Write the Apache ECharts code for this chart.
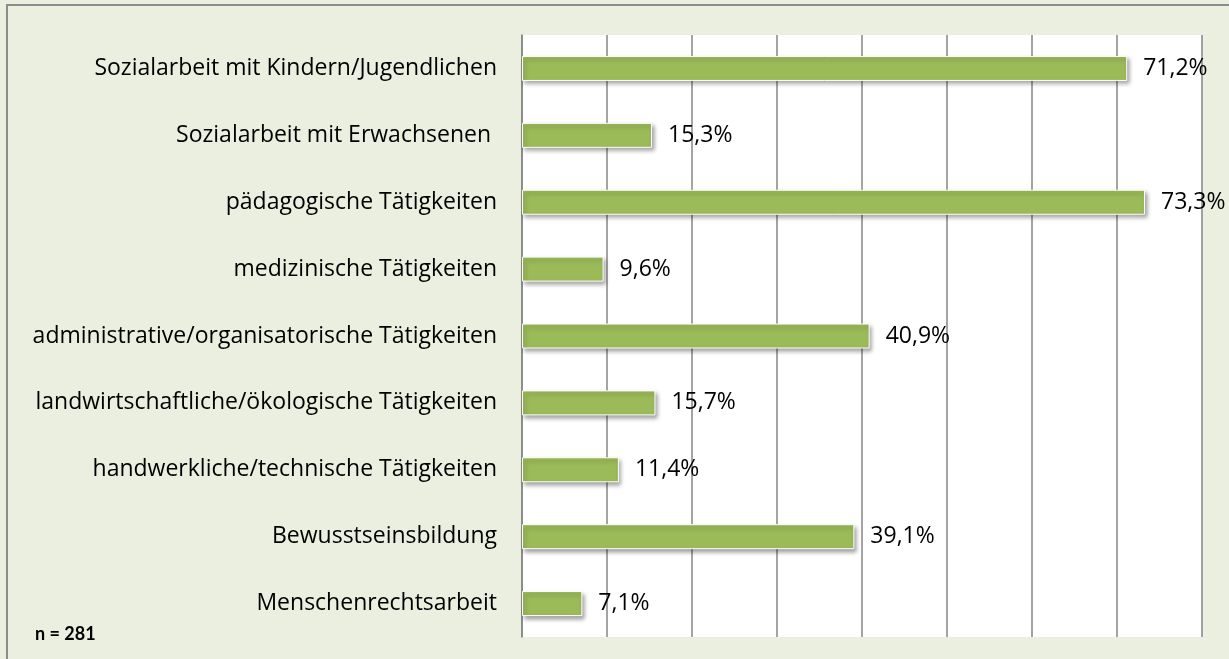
<!DOCTYPE html>
<html>
<head>
<meta charset="utf-8">
<script src="https://cdn.jsdelivr.net/npm/echarts@6/dist/echarts.min.js"></script>
<style>
  html, body { margin: 0; padding: 0; background: #EBEFDF; }
  #main { width: 1229px; height: 659px; }
</style>
</head>
<body>
<div id="main"></div>
<script>
(function() {
  const categories = [
    'Sozialarbeit mit Kindern/Jugendlichen',
    'Sozialarbeit mit Erwachsenen ',
    'pädagogische Tätigkeiten',
    'medizinische Tätigkeiten',
    'administrative/organisatorische Tätigkeiten',
    'landwirtschaftliche/ökologische Tätigkeiten',
    'handwerkliche/technische Tätigkeiten',
    'Bewusstseinsbildung',
    'Menschenrechtsarbeit'
  ];

  const values = [71.2, 15.3, 73.3, 9.6, 40.9, 15.7, 11.4, 39.1, 7.1];

  const myChart = echarts.init(document.getElementById('main'));

  const option = {
    backgroundColor: '#EBEFDF',
    animation: false,
    textStyle: { fontFamily: 'Open Sans' },
    grid: {
      left: 522,
      right: 27,
      top: 35,
      bottom: 22,
      show: true,
      backgroundColor: '#fff',
      borderWidth: 0
    },
    graphic: [{
      type: 'rect',
      shape: { x: 7, y: 5, width: 1240, height: 680 },
      style: { fill: 'none', stroke: '#8C8C8C', lineWidth: 2 },
      silent: true
    }, {
      type: 'text',
      left: 35,
      top: 625,
      style: {
        text: 'n = 281',
        font: 'bold 18px Lato',
        fill: '#000'
      }
    }],
    xAxis: {
      type: 'value',
      min: 0,
      max: 80,
      interval: 10,
      axisLabel: { show: false },
      axisLine: { show: false },
      axisTick: { show: false },
      splitLine: { lineStyle: { color: '#868686', width: 1.5 } }
    },
    yAxis: {
      type: 'category',
      inverse: true,
      data: categories,
      axisLine: { lineStyle: { color: '#868686', width: 1.5 } },
      axisTick: { show: false },
      axisLabel: {
        color: '#000',
        fontSize: 23,
        fontFamily: 'Open Sans',
        margin: 25
      }
    },
    series: [{
      type: 'bar',
      data: values,
      barWidth: 25,
      itemStyle: {
        color: '#9BBB59',
        borderColor: '#fff',
        borderWidth: 1,
        shadowColor: 'rgba(0,0,0,0.35)',
        shadowBlur: 4,
        shadowOffsetX: 2,
        shadowOffsetY: 3
      },
      label: {
        show: true,
        position: 'right',
        distance: 16,
        color: '#000',
        fontSize: 23,
        fontFamily: 'Open Sans',
        formatter: function (p) {
          return p.value.toFixed(1).replace('.', ',') + '%';
        }
      }
    }]
  };

  myChart.setOption(option);
})();
</script>
</body>
</html>
